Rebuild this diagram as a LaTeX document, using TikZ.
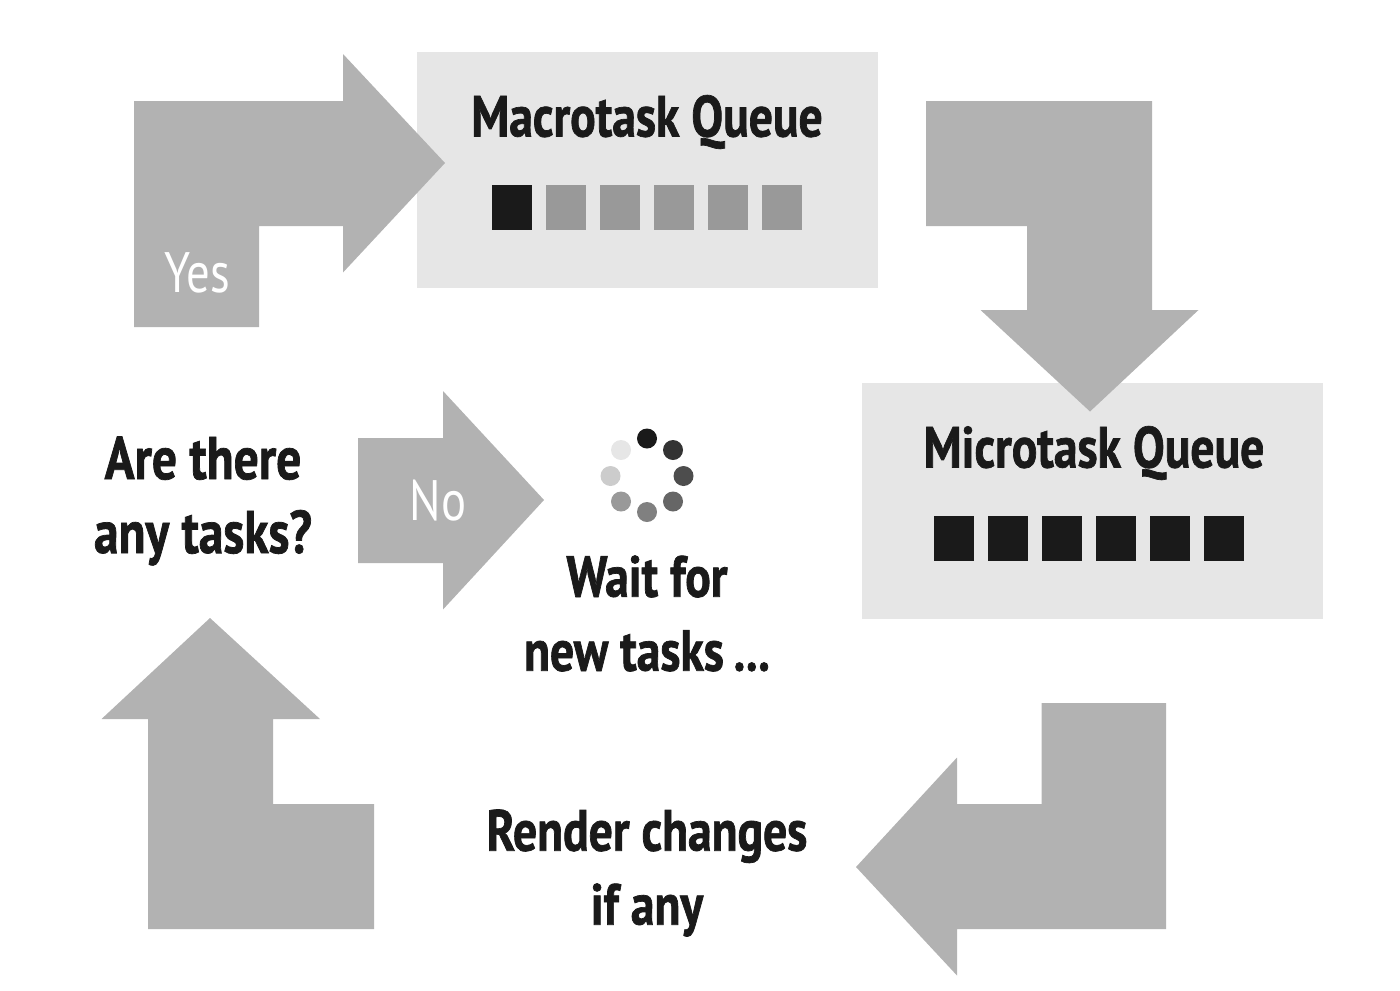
\documentclass[tikz,border=0pt]{standalone}
\usepackage{fontspec}
\setmainfont{PT Sans}[FakeStretch=0.82,BoldFeatures={FakeStretch=0.82,FakeBold=1.2}]
\tikzset{
 arrowshape/.style={fill=arrowgray,draw=none},
 panel/.style={fill=panelgray,draw=none},
 sq/.style={minimum width=40bp,minimum height=45bp,inner sep=0,draw=none},
 dot/.style={circle,minimum size=20bp,inner sep=0,draw=none},
 big/.style={font=\bfseries\fontsize{58bp}{74bp}\selectfont,text=darktext,align=center,inner sep=0},
 bigger/.style={font=\bfseries\fontsize{60.3bp}{74bp}\selectfont,text=darktext,align=center,inner sep=0},
 thin/.style={font=\fontsize{57bp}{60bp}\selectfont,text=white,inner sep=0}
}
\definecolor{arrowgray}{HTML}{B2B2B2}
\definecolor{panelgray}{HTML}{E6E6E6}
\definecolor{darktext}{HTML}{1A1A1A}
\definecolor{sqgray}{HTML}{999999}
\begin{document}
\begin{tikzpicture}[x=1bp,y=-1bp]
\useasboundingbox (0,0) rectangle (1400,990);
\fill[panel] (417,52) rectangle (877.5,288);
\fill[panel] (862,383) rectangle (1323,618.5);
\fill[arrowshape] (134,327) -- (134,101) -- (343,101) -- (343,54) -- (445,163) -- (343,272.5) -- (343,226) -- (259,226) -- (259,327) -- cycle;
\fill[arrowshape] (926,101) -- (1152,101) -- (1152,310) -- (1198.5,310) -- (1090,411.5) -- (980.5,310) -- (1027,310) -- (1027,226) -- (926,226) -- cycle;
\fill[arrowshape] (358,438) -- (443,438) -- (443,391) -- (544,500) -- (443,609.5) -- (443,563) -- (358,563) -- cycle;
\fill[arrowshape] (1166,703) -- (1166,929) -- (957,929) -- (957,975.5) -- (856,867) -- (957,757.5) -- (957,804) -- (1041.5,804) -- (1041.5,703) -- cycle;
\fill[arrowshape] (374,929) -- (148,929) -- (148,719) -- (101.5,719) -- (210,618) -- (320,719) -- (273,719) -- (273,804) -- (374,804) -- cycle;
\node[big] (mac) at (647,122) {Macrotask Queue};
\node[big] (mic) at (1094,453) {Microtask Queue};
\node[bigger] (any) at (203,501) {Are there\\any tasks?};
\node[big] (wait) at (647,613.5) {Wait for\\new tasks\,...};
\node[big] (render) at (647,873) {Render changes\\if any};
\node[thin] (yes) at (197,273) {Yes};
\node[thin] (no) at (438,501) {No};
\foreach \i/\c in {0/darktext,1/sqgray,2/sqgray,3/sqgray,4/sqgray,5/sqgray}
  \node[sq,fill=\c] (a\i) at (512+54*\i,207) {};
\foreach \i in {0,...,5}
  \node[sq,fill=darktext] (b\i) at (953.5+54*\i,538) {};
\foreach \n/\x/\y/\c in {d1/647/438.5/1A1A1A,d2/673/450/333333,d3/683.5/476/4D4D4D,d4/673/501.5/666666,d5/647/512/808080,d6/621/501.5/999999,d7/610.5/476/CCCCCC,d8/621/450/E6E6E6}{
  \definecolor{tmpc}{HTML}{\c}
  \node[dot,fill=tmpc] (\n) at (\x,\y) {};
}
\end{tikzpicture}
\end{document}
